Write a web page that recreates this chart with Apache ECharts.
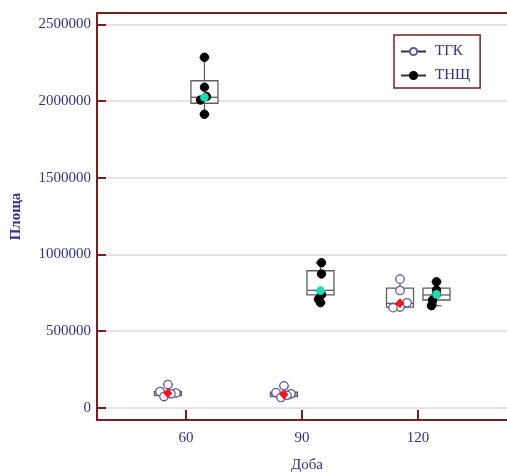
<!DOCTYPE html>
<html><head><meta charset="utf-8">
<script src="https://cdn.jsdelivr.net/npm/echarts@6/dist/echarts.min.js"></script>
<style>html,body{margin:0;padding:0;background:#fff}#c{width:507px;height:472px}</style>
</head><body><div id="c"></div>
<script>
// ---------------- DATA ----------------
const categories = [60, 90, 120];
const seriesNames = ['ТГК', 'ТНЩ'];
const yTicks = [0, 500000, 1000000, 1500000, 2000000, 2500000];
// box stats per category: [min, Q1, median, Q3, max]
const tgkBox  = [[72000, 78000, 92000, 106000, 150000], [66000, 72000, 85000, 100000, 142000], [652000, 655000, 680000, 780000, 838000]];
const tnshBox = [[1914000, 1986000, 2025000, 2133000, 2286000], [685000, 735000, 765000, 893000, 945000], [665000, 702000, 735000, 779000, 821000]];
// individual observations per category
const tgkPoints  = [[150000, 105000, 95000, 90000, 72000], [142000, 98000, 90000, 80000, 66000], [838000, 764000, 684000, 656000, 652000]];
const tnshPoints = [[2286000, 2091000, 2030000, 2007000, 1914000], [945000, 872000, 737000, 708000, 685000], [821000, 767000, 740000, 702000, 665000]];
// group means per category
const tgkMean  = [94000, 86000, 681000];
const tnshMean = [2025000, 763000, 739000];

// ---------------- LAYOUT / STYLE ----------------
const FONT = 'Liberation Serif';
const TXT = '#30308f';
const AX = '#7f1d1d';
const GRIDC = '#e2d9d9';
const GROUP_PX = [-18, 18.5];        // pixel offset of each group from category tick
const BOX_W = 27, CAP_W = 10;
const JITTER = [
  [[0, -8, 8, 3, -4], [0, -8, 7, 3, -3], [0, 0, 7, 0, -7]],
  [[0, 0, 2, -4, 0], [1, 1, 1, -2, 0], [0, 0, 0, -4, -5]]
];
const POINT_STYLE = [
  {fill: '#fff', stroke: '#5a5aa8', lineWidth: 1.3},
  {fill: '#000', stroke: '#000', lineWidth: 1}
];
const MEAN_COLOR = ['#ff1010', '#14e0b4'];

function boxData(stats) {
  return stats.map((s, i) => [categories[i]].concat(s));
}
function pointData(pts, g) {
  const out = [];
  pts.forEach((arr, ci) => arr.forEach((v, pi) => out.push({value: [categories[ci], v], jit: JITTER[g][ci][pi]})));
  return out;
}
function meanData(m) { return m.map((v, i) => [categories[i], v]); }

function boxRender(g) {
  return function (params, api) {
    const cat = api.value(0);
    const xc = api.coord([cat, 0])[0] + GROUP_PX[g];
    const y = k => api.coord([cat, api.value(k)])[1];
    const yMin = y(1), yQ1 = y(2), yMed = y(3), yQ3 = y(4), yMax = y(5);
    const st = {stroke: '#5e5e5e', lineWidth: 1.3, fill: null};
    return {
      type: 'group',
      children: [
        {type: 'line', shape: {x1: xc, y1: yMax, x2: xc, y2: yQ3}, style: st},
        {type: 'line', shape: {x1: xc, y1: yQ1, x2: xc, y2: yMin}, style: st},
        {type: 'line', shape: {x1: xc - CAP_W / 2, y1: yMax, x2: xc + CAP_W / 2, y2: yMax}, style: st},
        {type: 'line', shape: {x1: xc - CAP_W / 2, y1: yMin, x2: xc + CAP_W / 2, y2: yMin}, style: st},
        {type: 'rect', shape: {x: xc - BOX_W / 2, y: yQ3, width: BOX_W, height: yQ1 - yQ3}, style: {stroke: '#5e5e5e', lineWidth: 1.3, fill: '#fff'}},
        {type: 'line', shape: {x1: xc - BOX_W / 2, y1: yMed, x2: xc + BOX_W / 2, y2: yMed}, style: st}
      ]
    };
  };
}
function pointRender(g, data) {
  return function (params, api) {
    const p = api.coord([api.value(0), api.value(1)]);
    const jit = data[params.dataIndex].jit;
    return {type: 'circle', shape: {cx: p[0] + GROUP_PX[g] + jit, cy: p[1], r: 4.2}, style: POINT_STYLE[g]};
  };
}
function meanRender(g) {
  return function (params, api) {
    const p = api.coord([api.value(0), api.value(1)]);
    const cx = p[0] + GROUP_PX[g], cy = p[1];
    if (g === 0) {
      return {type: 'polygon', shape: {points: [[cx, cy - 5], [cx + 4.5, cy], [cx, cy + 5], [cx - 4.5, cy]]}, style: {fill: MEAN_COLOR[0]}};
    }
    return {type: 'circle', shape: {cx: cx, cy: cy, r: 4.3}, style: {fill: MEAN_COLOR[1]}};
  };
}

const series = [
  {name: seriesNames[0], type: 'line', data: [], symbol: 'circle', symbolSize: 7,
   itemStyle: {color: '#fff', borderColor: '#5a5aa8', borderWidth: 1.5}, lineStyle: {color: '#333', width: 1.5}},
  {name: seriesNames[1], type: 'line', data: [], symbol: 'circle', symbolSize: 7,
   itemStyle: {color: '#000', borderColor: '#000', borderWidth: 1}, lineStyle: {color: '#333', width: 1.5}}
];
[tgkBox, tnshBox].forEach((b, g) => series.push({type: 'custom', renderItem: boxRender(g), data: boxData(b), z: 3, silent: true}));
[tgkPoints, tnshPoints].forEach((p, g) => { const d = pointData(p, g); series.push({type: 'custom', renderItem: pointRender(g, d), data: d, z: 4, silent: true}); });
[tgkMean, tnshMean].forEach((m, g) => series.push({type: 'custom', renderItem: meanRender(g), data: meanData(m), z: 5, silent: true}));

const chart = echarts.init(document.getElementById('c'), null, {renderer: 'canvas'});
chart.setOption({
  animation: false,
  backgroundColor: '#fff',
  grid: {left: 97, top: 13, right: -10, bottom: 52, containLabel: false, outerBoundsMode: 'none'},
  legend: {
    data: seriesNames, orient: 'vertical', left: 394, top: 35,
    borderColor: AX, borderWidth: 1.5, padding: [9, 10, 5, 6],
    itemWidth: 25, itemHeight: 9, itemGap: 9,
    textStyle: {fontFamily: FONT, fontSize: 15, color: TXT, padding: [0, 0, 0, 4]}
  },
  xAxis: [
    {type: 'value', min: 37, max: 145.6, position: 'bottom',
     name: 'Доба', nameLocation: 'middle', nameGap: 38,
     nameTextStyle: {fontFamily: FONT, fontSize: 15, color: TXT},
     axisLine: {onZero: false, lineStyle: {color: AX, width: 2}},
     axisTick: {inside: true, length: 10, customValues: categories, lineStyle: {color: AX, width: 2}},
     axisLabel: {customValues: categories, margin: 11, fontFamily: FONT, fontSize: 15, color: TXT},
     splitLine: {show: false}},
    {type: 'value', min: 37, max: 145.6, position: 'top',
     axisLine: {show: true, onZero: false, lineStyle: {color: AX, width: 2}},
     axisTick: {show: false}, axisLabel: {show: false}, splitLine: {show: false}}
  ],
  yAxis: {
    type: 'value', min: -81000, max: 2575000,
    name: 'Площа', nameLocation: 'middle', nameGap: 73, nameRotate: 90,
    nameTextStyle: {fontFamily: FONT, fontSize: 15, fontWeight: 'bold', color: TXT},
    axisLine: {show: true, onZero: false, lineStyle: {color: AX, width: 2}},
    axisTick: {show: true, inside: true, length: 9, customValues: yTicks, lineStyle: {color: AX, width: 2}},
    axisLabel: {customValues: yTicks, margin: 6, fontFamily: FONT, fontSize: 15, color: TXT, formatter: v => String(v)},
    splitLine: {show: true, lineStyle: {color: GRIDC, width: 1.5}}
  },
  series: series
});
</script></body></html>
